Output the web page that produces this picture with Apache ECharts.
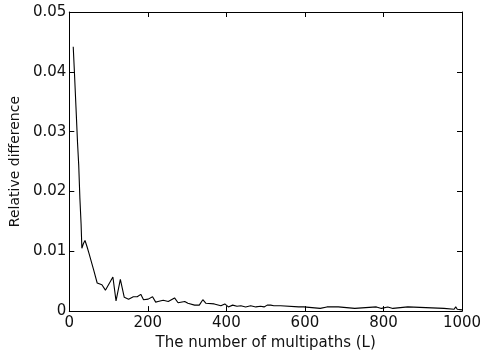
<!DOCTYPE html>
<html>
<head>
<meta charset="utf-8">
<script src="https://cdn.jsdelivr.net/npm/echarts@6/dist/echarts.min.js"></script>
<style>
html,body{margin:0;padding:0;background:#fff;}
#chart{width:487px;height:356px;}
</style>
</head>
<body>
<div id="chart"></div>
<script>
var xTicks = [0, 200, 400, 600, 800, 1000];
var yTicks = [0, 0.01, 0.02, 0.03, 0.04, 0.05];
var multipaths = [10,13,17,21,24,27,30,32,36,40,45,50,62,71,83,92,111,119,130,140,151,163,173,182,189,201,212,220,226,239,252,268,277,294,302,319,331,340,348,369,386,396,405,416,427,437,449,462,475,487,496,504,513,521,538,542,584,588,597,599,639,643,656,660,664,685,689,727,732,782,786,795,799,811,816,824,828,862,866,954,958,980,984,988,1000];
var relDiff = [0.0442,0.0400,0.0341,0.0281,0.0244,0.0188,0.0146,0.0105,0.0113,0.0118,0.0108,0.0097,0.0069,0.0047,0.0044,0.0035,0.0057,0.0017,0.0053,0.0023,0.0020,0.0024,0.0024,0.0028,0.0019,0.0020,0.0024,0.0015,0.0016,0.0018,0.0016,0.0022,0.0014,0.0016,0.0013,0.0010,0.0010,0.0019,0.0013,0.0012,0.0009,0.0012,0.0007,0.0010,0.0008,0.0009,0.0007,0.0009,0.0007,0.0008,0.0007,0.0010,0.0010,0.0009,0.0009,0.0007,0.0007,0.0009,0.0007,0.00045,0.00045,0.0007,0.0007,0.00045,0.0007,0.0007,0.00045,0.00045,0.0007,0.0007,0.00045,0.00045,0.0007,0.0007,0.00045,0.00045,0.0007,0.0007,0.00045,0.00045,0.0003,0.0003,0.0007,0.0003,0.0002];
var xTitle = 'The number of multipaths (L)';
var yTitle = 'Relative difference';

var data = multipaths.map(function (x, i) { return [x, relDiff[i]]; });
var font = 'DejaVu Sans, sans-serif';
var txtColor = '#111';
var chart = echarts.init(document.getElementById('chart'));
var lineStyle = { color: '#000', width: 1 };
chart.setOption({
  animation: false,
  backgroundColor: '#fff',
  grid: { left: 67, right: 25, top: 12, bottom: 43 },
  xAxis: [{
    type: 'value', min: xTicks[0], max: xTicks[xTicks.length - 1], interval: 200,
    position: 'bottom',
    axisLine: { show: true, onZero: false, lineStyle: lineStyle },
    axisTick: { show: true, inside: true, length: 5, lineStyle: lineStyle },
    splitLine: { show: false },
    axisLabel: { color: txtColor, fontSize: 15, fontFamily: font, margin: 5,
      formatter: function (v) { return String(v); } },
    name: xTitle, nameLocation: 'middle', nameGap: 21,
    nameTextStyle: { color: txtColor, fontSize: 15, fontFamily: font }
  }, {
    type: 'value', min: 0, max: 1000, interval: 200, position: 'top',
    axisLine: { show: true, onZero: false, lineStyle: lineStyle },
    axisTick: { show: true, inside: true, length: 5, lineStyle: lineStyle },
    axisLabel: { show: false }, splitLine: { show: false }
  }],
  yAxis: [{
    type: 'value', min: yTicks[0], max: yTicks[yTicks.length - 1], interval: 0.01,
    position: 'left',
    axisLine: { show: true, onZero: false, lineStyle: lineStyle },
    axisTick: { show: true, inside: true, length: 5, lineStyle: lineStyle },
    splitLine: { show: false },
    axisLabel: { color: txtColor, fontSize: 15, fontFamily: font, margin: 3,
      formatter: function (v) { return v === 0 ? '0' : v.toFixed(2); } },
    name: yTitle, nameLocation: 'middle', nameGap: 37, nameRotate: 90,
    nameTextStyle: { color: txtColor, fontSize: 14, fontFamily: font }
  }, {
    type: 'value', min: 0, max: 0.05, interval: 0.01, position: 'right',
    axisLine: { show: true, onZero: false, lineStyle: lineStyle },
    axisTick: { show: true, inside: true, length: 5, lineStyle: lineStyle },
    axisLabel: { show: false }, splitLine: { show: false }
  }],
  series: [{
    type: 'line', data: data, xAxisIndex: 0, yAxisIndex: 0,
    showSymbol: false, symbol: 'none',
    lineStyle: { color: '#000', width: 1.1 }
  }]
});
</script>
</body>
</html>
